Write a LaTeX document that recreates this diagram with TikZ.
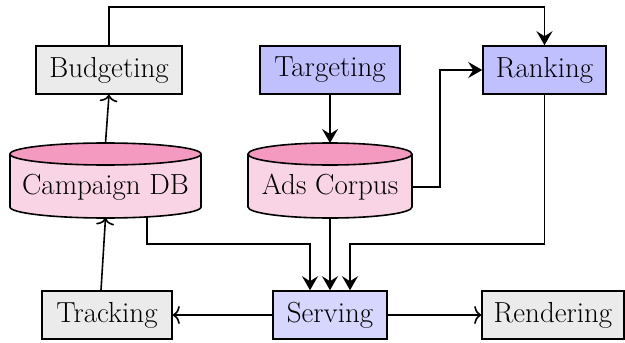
\documentclass[tikz,border=0pt]{standalone}
\usetikzlibrary{arrows.meta,calc,positioning}
\definecolor{boxgray}{HTML}{EBEBEB}
\definecolor{boxblue}{HTML}{C0C0FF}
\definecolor{boxlight}{HTML}{D6D6FF}
\definecolor{dbbody}{HTML}{F9D4E4}
\definecolor{dbtop}{HTML}{F49AC0}
\begin{document}
\begin{tikzpicture}[x=1pt,y=-1pt,line width=1.6pt,
  comp/.style={draw, minimum height=48pt, inner sep=0pt, font=\fontsize{29}{33}\selectfont},
  dbtext/.style={inner sep=0pt, font=\fontsize{29}{33}\selectfont},
  flow/.style={-{Stealth[length=14pt,width=16pt,inset=5pt]}},
  feed/.style={-{To[length=7pt,width=18pt]}}]
  \useasboundingbox (0,0) rectangle (625,343);
% Boxes
  \node[comp, fill=boxgray, minimum width=146pt] (budget) at (109,70) {Budgeting};
  \node[comp, fill=boxblue, minimum width=140pt] (target) at (330,70) {Targeting};
  \node[comp, fill=boxblue, minimum width=123pt] (rank) at (544.5,70) {Ranking};
  \node[comp, fill=boxgray, minimum width=130pt] (track) at (107,315) {Tracking};
  \node[comp, fill=boxlight, minimum width=114pt] (serve) at (330,315) {Serving};
  \node[comp, fill=boxgray, minimum width=142pt] (render) at (553,315) {Rendering};
% Campaign DB
  \fill[dbbody] (10,154) -- (10,207) arc[start angle=180,end angle=0,x radius=95.5,y radius=11] -- (201,154) -- cycle;
  \draw (10,154) -- (10,207) arc[start angle=180,end angle=0,x radius=95.5,y radius=11] -- (201,154);
  \filldraw[fill=dbtop] (105.5,154) ellipse [x radius=95.5,y radius=11];
  \node[dbtext] (camp) at (105.5,187) {Campaign DB};
% Ads Corpus
  \fill[dbbody] (248,154) -- (248,207) arc[start angle=180,end angle=0,x radius=82,y radius=11] -- (412,154) -- cycle;
  \draw (248,154) -- (248,207) arc[start angle=180,end angle=0,x radius=82,y radius=11] -- (412,154);
  \filldraw[fill=dbtop] (330,154) ellipse [x radius=82,y radius=11];
  \node[dbtext] (ads) at (330,187) {Ads Corpus};
% Ends on the cylinders
  \coordinate (camptop) at (105.5,143);
  \coordinate (campbase) at (105.5,218);
  \coordinate (campout) at (147,217);
  \coordinate (adstop) at (330,143);
  \coordinate (adsbase) at (330,218);
  \coordinate (adsright) at (412,187);
  \coordinate (topline) at (0,7);
  \coordinate (bend) at (0,244);
% Arrows
  \draw[feed] (camptop) -- (budget.south);
  \draw[feed] ([xshift=-6pt]track.north) -- (campbase);
  \draw[feed] (serve.west) -- (track.east);
  \draw[feed] (serve.east) -- (render.west);
  \draw[flow] (budget.north) -- (budget.north |- topline) -| (rank.north);
  \draw[flow] (target.south) -- (adstop);
  \draw[flow] (adsright) -- ++(28,0) |- (rank.west);
  \draw[flow] (campout) -- (campout |- bend) -| ([xshift=-20pt]serve.north);
  \draw[flow] (adsbase) -- (serve.north);
  \draw[flow] (rank.south) -- (rank.south |- bend) -| ([xshift=20pt]serve.north);
\end{tikzpicture}
\end{document}
